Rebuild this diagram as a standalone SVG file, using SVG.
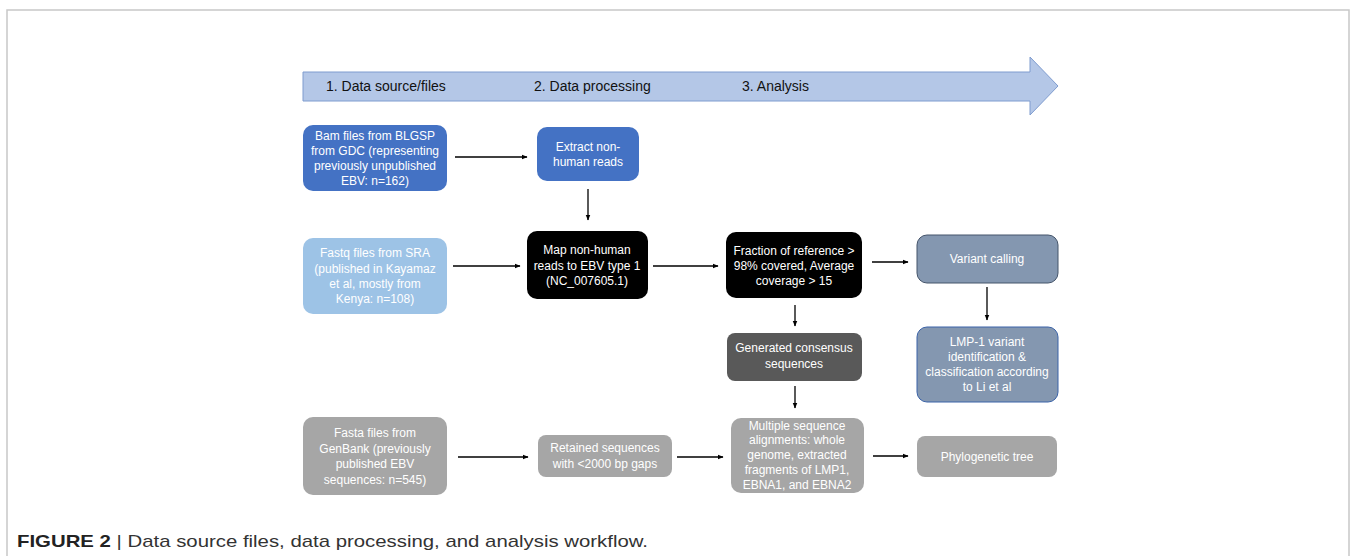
<svg xmlns="http://www.w3.org/2000/svg" width="1356" height="556" viewBox="0 0 1356 556">
<style>
.n text{font-family:"Liberation Sans",Arial,sans-serif;font-size:12px;fill:#fff;text-anchor:middle}
.hdr{font-family:"Liberation Sans",Arial,sans-serif;font-size:14px;fill:#111}
.c line{stroke:#000;stroke-width:1.3;marker-end:url(#ah)}
.cap{font-family:"Liberation Sans",Arial,sans-serif;font-size:17px;fill:#333}
</style>
<defs>
<marker id="ah" viewBox="0 0 10 10" refX="9" refY="5" markerWidth="6" markerHeight="6" markerUnits="userSpaceOnUse" orient="auto">
<path d="M0,1 L10,5 L0,9 Z" fill="#000"/>
</marker>
</defs>
<rect width="1356" height="556" fill="#fff"/>
<path d="M7,560 L7,10 L1349,10 L1349,560" fill="none" stroke="#c8c8c8" stroke-width="1.5"/>
<g id="banner">
<path d="M303,72 L1030,72 L1030,57 L1058,86 L1030,115 L1030,101 L303,101 Z" fill="#b4c7e7" stroke="#7f9ccf" stroke-width="1"/>
<text class="hdr" x="326" y="91">1. Data source/files</text>
<text class="hdr" x="534" y="91">2. Data processing</text>
<text class="hdr" x="742" y="91">3. Analysis</text>
</g>
<g class="c" id="connectors">
<line x1="455" y1="157" x2="527" y2="157"/>
<line x1="588" y1="189" x2="588" y2="220"/>
<line x1="453" y1="266" x2="520" y2="266"/>
<line x1="653" y1="266" x2="718" y2="266"/>
<line x1="872" y1="262" x2="908" y2="262"/>
<line x1="987" y1="287" x2="987" y2="320"/>
<line x1="795" y1="305" x2="795" y2="326"/>
<line x1="795" y1="386" x2="795" y2="408"/>
<line x1="458" y1="457" x2="528" y2="457"/>
<line x1="677" y1="457" x2="723" y2="457"/>
<line x1="873" y1="456" x2="908" y2="456"/>
</g>
<g class="n" id="bam">
<rect x="303" y="125" width="144" height="66" rx="10" fill="#4472c4"/>
<text x="375" y="140">Bam files from BLGSP</text>
<text x="375" y="155">from GDC (representing</text>
<text x="375" y="170">previously unpublished</text>
<text x="375" y="185">EBV: n=162)</text>
</g>
<g class="n" id="extract">
<rect x="537" y="127" width="102" height="54" rx="10" fill="#4472c4"/>
<text x="588" y="151">Extract non-</text>
<text x="588" y="166">human reads</text>
</g>
<g class="n" id="fastq">
<rect x="303" y="238" width="144" height="76" rx="10" fill="#9dc3e6"/>
<text x="375" y="257">Fastq files from SRA</text>
<text x="375" y="273">(published in Kayamaz</text>
<text x="375" y="288">et al, mostly from</text>
<text x="375" y="303">Kenya: n=108)</text>
</g>
<g class="n" id="map">
<rect x="527" y="231" width="121" height="68" rx="10" fill="#000"/>
<text x="587" y="254">Map non-human</text>
<text x="587" y="270">reads to EBV type 1</text>
<text x="587" y="285">(NC_007605.1)</text>
</g>
<g class="n" id="fraction">
<rect x="726" y="232" width="136" height="66" rx="10" fill="#000"/>
<text x="794" y="255">Fraction of reference &gt;</text>
<text x="794" y="270">98% covered, Average</text>
<text x="794" y="285">coverage &gt; 15</text>
</g>
<g class="n" id="variant">
<rect x="917" y="235" width="141" height="48" rx="10" fill="#8497b0" stroke="#44546a" stroke-width="1"/>
<text x="987" y="263">Variant calling</text>
</g>
<g class="n" id="lmp">
<rect x="917" y="327" width="141" height="75" rx="10" fill="#8497b0" stroke="#3b63a8" stroke-width="1"/>
<text x="987" y="346">LMP-1 variant</text>
<text x="987" y="361">identification &amp;</text>
<text x="987" y="376">classification according</text>
<text x="987" y="391">to Li et al</text>
</g>
<g class="n" id="consensus">
<rect x="727" y="333" width="135" height="48" rx="8" fill="#595959"/>
<text x="794" y="352">Generated consensus</text>
<text x="794" y="368">sequences</text>
</g>
<g class="n" id="fasta">
<rect x="303" y="417" width="144" height="78" rx="10" fill="#a6a6a6"/>
<text x="375" y="437">Fasta files from</text>
<text x="375" y="453">GenBank (previously</text>
<text x="375" y="468">published EBV</text>
<text x="375" y="484">sequences: n=545)</text>
</g>
<g class="n" id="retained">
<rect x="538" y="435" width="134" height="42" rx="8" fill="#a6a6a6"/>
<text x="605" y="452">Retained sequences</text>
<text x="605" y="468">with &lt;2000 bp gaps</text>
</g>
<g class="n" id="msa">
<rect x="731" y="418" width="133" height="75" rx="10" fill="#a6a6a6"/>
<text x="797" y="430">Multiple sequence</text>
<text x="797" y="444">alignments: whole</text>
<text x="797" y="459">genome, extracted</text>
<text x="797" y="474">fragments of LMP1,</text>
<text x="797" y="489">EBNA1, and EBNA2</text>
</g>
<g class="n" id="phylo">
<rect x="917" y="436" width="140" height="41" rx="8" fill="#a6a6a6"/>
<text x="987" y="461">Phylogenetic tree</text>
</g>
<g id="caption">
<text class="cap" x="17" y="547" textLength="631" lengthAdjust="spacingAndGlyphs"><tspan font-weight="bold" fill="#222">FIGURE 2</tspan> | Data source files, data processing, and analysis workflow.</text>
</g>
</svg>
